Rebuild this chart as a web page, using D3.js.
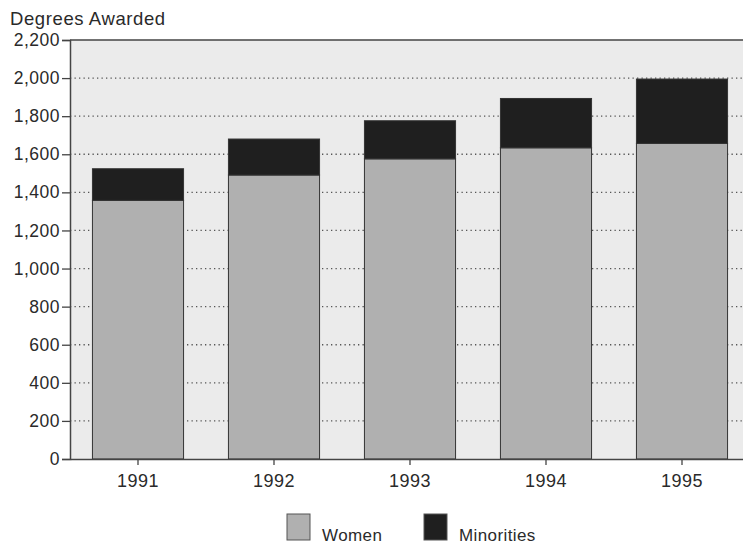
<!DOCTYPE html>
<html>
<head>
<meta charset="utf-8">
<script src="https://cdn.jsdelivr.net/npm/d3@7"></script>
<style>
  body { margin: 0; background: #fff; }
  text { font-family: "Liberation Sans", Arial, Helvetica, sans-serif; fill: #2a2a2a; }
</style>
</head>
<body>
<div id="chart"></div>
<script>
// data
var years = ["1991", "1992", "1993", "1994", "1995"];
var women = [1358, 1491, 1576, 1634, 1657];
var minorities = [166, 189, 200, 259, 338];
var yTicks = [0, 200, 400, 600, 800, 1000, 1200, 1400, 1600, 1800, 2000, 2200];
var seriesNames = ["Women", "Minorities"];
var seriesColors = ["#b0b0b0", "#1f1f1f"];

var width = 743, height = 551;
var margin = {top: 40, left: 70, bottom: 92};
var plotW = 680; // runs off the right edge, like the scan

var svg = d3.select("#chart").append("svg")
    .attr("width", width)
    .attr("height", height);

var x = d3.scaleBand()
    .domain(years)
    .range([margin.left, margin.left + plotW])
    .paddingInner(0.33)
    .paddingOuter(0.165);

var y = d3.scaleLinear()
    .domain([0, 2200])
    .range([height - margin.bottom, margin.top]);

// plot background
svg.append("rect")
    .attr("x", margin.left)
    .attr("y", y(2200))
    .attr("width", plotW)
    .attr("height", y(0) - y(2200))
    .attr("fill", "#ebebeb");

// dotted gridlines
svg.append("g")
  .selectAll("line")
  .data(yTicks.filter(d => d > 0 && d < 2200))
  .enter().append("line")
    .attr("x1", margin.left)
    .attr("x2", margin.left + plotW)
    .attr("y1", d => y(d))
    .attr("y2", d => y(d))
    .attr("stroke", "#555")
    .attr("stroke-width", 1.3)
    .attr("stroke-dasharray", "1.3,3.2");

// stack the two series
var rows = years.map((yr, i) => ({year: yr, Women: women[i], Minorities: minorities[i]}));
var stacked = d3.stack().keys(seriesNames)(rows);

svg.append("g")
  .selectAll("g")
  .data(stacked)
  .enter().append("g")
    .attr("fill", (d, i) => seriesColors[i])
  .selectAll("rect")
  .data(d => d)
  .enter().append("rect")
    .attr("x", d => x(d.data.year))
    .attr("y", d => y(d[1]))
    .attr("width", x.bandwidth())
    .attr("height", d => y(d[0]) - y(d[1]))
    .attr("stroke", "#333")
    .attr("stroke-width", 1);

// top border
svg.append("line")
    .attr("x1", margin.left)
    .attr("x2", margin.left + plotW)
    .attr("y1", y(2200))
    .attr("y2", y(2200))
    .attr("stroke", "#444")
    .attr("stroke-width", 1.5);

// y axis
var yAxis = svg.append("g")
    .attr("transform", "translate(" + margin.left + ",0)")
    .call(d3.axisLeft(y).tickValues(yTicks).tickSize(8).tickPadding(2).tickFormat(d3.format(",")));
yAxis.select(".domain").attr("stroke", "#444").attr("stroke-width", 1.5);
yAxis.selectAll(".tick line").attr("stroke", "#444").attr("stroke-width", 1.3);
yAxis.selectAll("text")
    .style("font-size", "17.5px")
    .style("letter-spacing", "0.5px")
    .attr("fill", "#2a2a2a");

// x axis
var xAxis = svg.append("g")
    .attr("transform", "translate(0," + y(0) + ")")
    .call(d3.axisBottom(x).tickSizeInner(6).tickSizeOuter(0).tickPadding(9));
xAxis.select(".domain").attr("stroke", "#444").attr("stroke-width", 1.5);
xAxis.selectAll(".tick line").attr("stroke", "#444").attr("stroke-width", 1.3);
xAxis.selectAll("text")
    .style("font-size", "18px")
    .style("letter-spacing", "0.5px")
    .attr("fill", "#2a2a2a");

// title
svg.append("text")
    .attr("x", 10)
    .attr("y", 25)
    .style("font-size", "18.5px")
    .style("letter-spacing", "0.6px")
    .text("Degrees Awarded");

// legend
var legendX = [287, 424];
var legend = svg.append("g")
  .selectAll("g")
  .data(seriesNames)
  .enter().append("g")
    .attr("transform", (d, i) => "translate(" + legendX[i] + ",514)");
legend.append("rect")
    .attr("width", 23)
    .attr("height", 26)
    .attr("fill", (d, i) => seriesColors[i])
    .attr("stroke", "#555");
legend.append("text")
    .attr("x", 35)
    .attr("y", 27)
    .style("font-size", "17px")
    .style("letter-spacing", "0.4px")
    .text(d => d);
</script>
</body>
</html>
